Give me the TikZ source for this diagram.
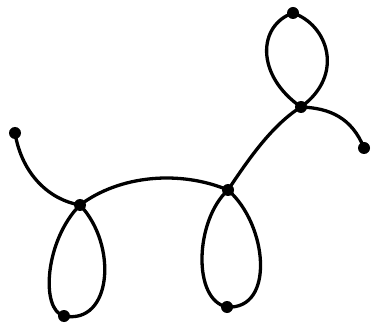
\documentclass[tikz,border=0pt]{standalone}
\begin{document}
\begin{tikzpicture}[x=1pt,y=-1pt,line width=3.3pt,line cap=round,
  vtx/.style={circle,fill=black,inner sep=0pt,minimum size=12pt}]
\useasboundingbox (0,0) rectangle (371,336);
\node[vtx] (a) at (15,133) {};
\node[vtx] (b) at (80,205) {};
\node[vtx] (c) at (64,316) {};
\node[vtx] (d) at (228,190) {};
\node[vtx] (e) at (227,307) {};
\node[vtx] (f) at (301,107) {};
\node[vtx] (g) at (293,13) {};
\node[vtx] (h) at (364,148) {};
\draw (a.center) .. controls (22,175) and (50,200) .. (b.center);
\draw (b.center) .. controls (120,175) and (180,170) .. (d.center);
\draw (b.center) .. controls (45,240) and (40,310) .. (c.center);
\draw (b.center) .. controls (118,245) and (112,325) .. (c.center);
\draw (d.center) .. controls (195,220) and (192,300) .. (e.center);
\draw (d.center) .. controls (268,225) and (275,310) .. (e.center);
\draw (d.center) .. controls (248,160) and (272,125) .. (f.center);
\draw (f.center) .. controls (255,75) and (258,25) .. (g.center);
\draw (f.center) .. controls (345,75) and (328,25) .. (g.center);
\draw (f.center) .. controls (330,108) and (352,118) .. (h.center);
\end{tikzpicture}
\end{document}
